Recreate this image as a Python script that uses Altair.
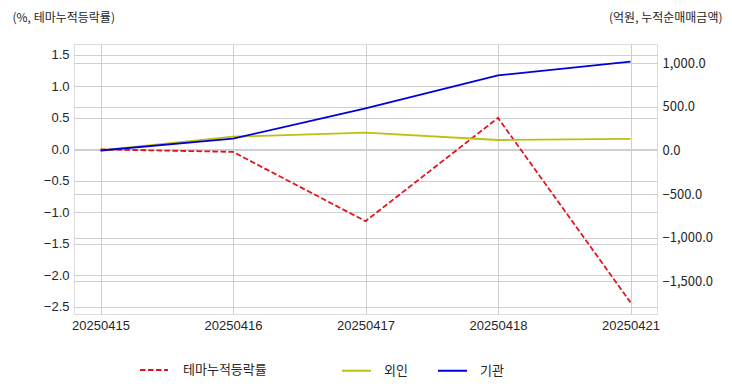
import altair as alt
import pandas as pd

dates = ["20250415", "20250416", "20250417", "20250418", "20250421"]
theme_pct = [0.0, -0.04, -1.14, 0.50, -2.43]
foreign = [0.0, 158.0, 204.0, 120.0, 132.0]
institution = [0.0, 135.0, 484.0, 862.0, 1018.0]

left_ticks = [-2.5, -2.0, -1.5, -1.0, -0.5, 0.0, 0.5, 1.0, 1.5]
right_ticks = [-1500, -1000, -500, 0, 500, 1000]

left_df = pd.DataFrame({"date": dates, "value": theme_pct, "series": "테마누적등락률"})
right_df = pd.concat([
    pd.DataFrame({"date": dates, "value": foreign, "series": "외인"}),
    pd.DataFrame({"date": dates, "value": institution, "series": "기관"}),
])

GRID = "#cfcfcf"
LABEL = "#262626"
KFONT = "Noto Sans CJK KR"
NFONT = "Liberation Sans"

x = alt.X(
    "date:O",
    sort=dates,
    scale=alt.Scale(type="point", padding=0.2),
    axis=alt.Axis(title=None, labelAngle=0, grid=True, gridColor=GRID, ticks=False,
                  domain=False, labelPadding=5, labelFontSize=13, labelColor=LABEL,
                  labelFont=NFONT),
)

left = alt.Chart(left_df).mark_line(strokeWidth=1.8, strokeDash=[5.5, 2.5]).encode(
    x=x,
    y=alt.Y(
        "value:Q",
        scale=alt.Scale(domain=[-2.615, 1.674], nice=False, zero=False),
        axis=alt.Axis(orient="left", values=left_ticks, format=".1f", grid=True,
                      gridColor=GRID, ticks=False, domain=False, labelPadding=5,
                      labelFontSize=13, labelColor=LABEL, labelFont=NFONT,
                      title="(%, 테마누적등락률)", titleAngle=0, titleX=-62, titleY=-27,
                      titleAlign="left", titleBaseline="middle", titleFontWeight="normal",
                      titleFontSize=12, titleFont=KFONT, titleColor=LABEL),
    ),
    color=alt.Color(
        "series:N",
        scale=alt.Scale(domain=["테마누적등락률"], range=["#e4141b"]),
        legend=alt.Legend(orient="none", legendX=65, legendY=311, title=None,
                          direction="horizontal", symbolType="stroke", symbolSize=784,
                          symbolStrokeWidth=2, symbolDash=[5.5, 2.5], labelOffset=14,
                          labelFontSize=13, labelFont=KFONT, labelColor=LABEL, padding=0),
    ),
)

right = alt.Chart(right_df).mark_line(strokeWidth=1.8).encode(
    x=x,
    y=alt.Y(
        "value:Q",
        scale=alt.Scale(domain=[-1875, 1221], nice=False, zero=False),
        axis=alt.Axis(orient="right", values=right_ticks, format=",.1f", grid=True,
                      gridColor=GRID, ticks=False, domain=False, labelPadding=5,
                      labelFontSize=13, labelColor=LABEL, labelFont=KFONT,
                      title="(억원, 누적순매매금액)", titleAngle=0, titleX=65, titleY=-27,
                      titleAlign="right", titleBaseline="middle", titleFontWeight="normal",
                      titleFontSize=12, titleFont=KFONT, titleColor=LABEL),
    ),
    color=alt.Color(
        "series:N",
        sort=["외인", "기관"],
        scale=alt.Scale(domain=["외인", "기관"], range=["#bfbf10", "#0000d8"]),
        legend=alt.Legend(orient="none", legendX=267, legendY=311, title=None,
                          direction="horizontal", symbolType="stroke", symbolSize=841,
                          symbolStrokeWidth=2, labelOffset=12, columnPadding=26,
                          labelFontSize=13, labelFont=KFONT, labelColor=LABEL, padding=0),
    ),
)

chart = alt.layer(left, right).resolve_scale(y="independent", color="independent").properties(
    width=583,
    height=270,
    autosize=alt.AutoSizeParams(type="none"),
    padding={"left": 66, "top": 36, "right": 67, "bottom": 70},
).configure_view(stroke="#cccccc", strokeWidth=1.5).configure(background="white")

chart.save("out.html", embed_options={"renderer": "svg", "actions": False})
